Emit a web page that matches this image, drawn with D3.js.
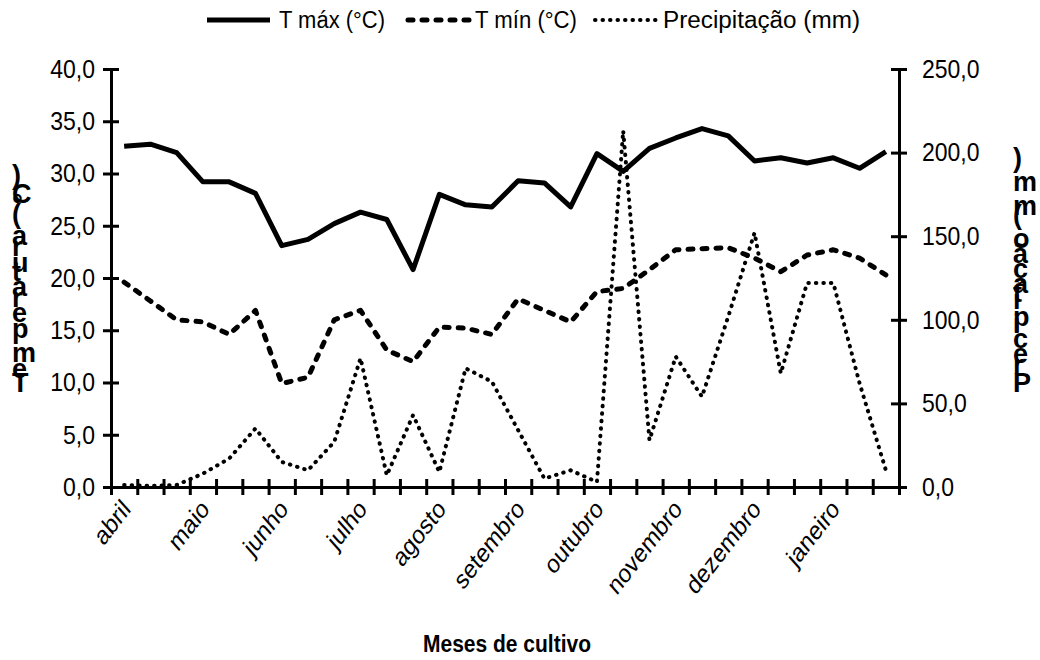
<!DOCTYPE html>
<html>
<head>
<meta charset="utf-8">
<script src="https://cdn.jsdelivr.net/npm/d3@7"></script>
<style>
body { margin: 0; background: #fff; }
svg { font-family: "Liberation Sans", Arial, sans-serif; }
</style>
</head>
<body>
<svg id="chart" width="1040" height="660"></svg>
<script>
// one label every third week
const weekLabels = [
	"abril", "", "", "maio", "", "", "junho", "", "", "julho", "", "",
	"agosto", "", "", "setembro", "", "", "outubro", "", "", "novembro", "", "",
	"dezembro", "", "", "janeiro", "", ""
];

const tmax = [32.6, 32.8, 32.0, 29.2, 29.2, 28.1, 23.1, 23.7, 25.2, 26.3, 25.6, 20.8, 28.0, 27.0, 26.8,
	29.3, 29.1, 26.8, 31.9, 30.2, 32.4, 33.4, 34.3, 33.6, 31.2, 31.5, 31.0, 31.5, 30.5, 32.1];

const tmin = [19.6, 17.8, 16.0, 15.8, 14.6, 16.9, 9.9, 10.5, 16.0, 16.9, 13.1, 12.0, 15.3, 15.2, 14.6,
	18.0, 16.9, 15.8, 18.7, 19.0, 20.8, 22.7, 22.8, 22.9, 21.9, 20.6, 22.2, 22.7, 21.9, 20.3];

const precip = [1.2, 0.6, 1.2, 8, 17, 35, 15, 10, 27, 77, 7, 43, 9, 71, 63,
	34, 5, 10, 3, 213, 28, 78, 54, 102, 152, 68, 122, 122, 62, 10];

const tempTicks = [0, 5, 10, 15, 20, 25, 30, 35, 40];
const precipTicks = [0, 50, 100, 150, 200, 250];

const svg = d3.select("#chart");

// the original picture is a bit taller than wide in its lettering
const tall = 1.13;

const x = d3.scaleLinear()
	.domain([0, weekLabels.length])
	.range([111, 899]);

const yT = d3.scaleLinear().domain([0, 40]).range([487, 69]);
const yP = d3.scaleLinear().domain([0, 250]).range([487, 69]);

const fmt = (v) => d3.format(".1f")(v).replace(".", ",");

// Axes

const styleAxis = (g) => {
	g.select(".domain").attr("stroke", "#000").attr("stroke-width", 3);
	g.selectAll(".tick line").attr("stroke", "#000").attr("stroke-width", 3);
	g.selectAll(".tick text")
		.attr("fill", "#000")
		.attr("transform", `scale(1,${tall})`)
		.style("font-size", "23px");
	g.attr("font-family", null);
};

svg.append("g")
	.attr("transform", "translate(111,0)")
	.call(d3.axisLeft(yT).tickValues(tempTicks).tickFormat(fmt).tickSize(8).tickSizeOuter(0).tickPadding(8))
	.call(styleAxis)
	.call((g) => g.selectAll(".tick line").attr("x1", 8));

svg.append("g")
	.attr("transform", "translate(899,0)")
	.call(d3.axisRight(yP).tickValues(precipTicks).tickFormat(fmt).tickSize(8).tickSizeOuter(0).tickPadding(15))
	.call(styleAxis)
	.call((g) => g.selectAll(".tick line").attr("x1", -8));

svg.append("g")
	.attr("transform", "translate(0,487)")
	.call(d3.axisBottom(x).tickValues(d3.range(weekLabels.length + 1)).tickFormat("").tickSize(8).tickSizeOuter(0))
	.call(styleAxis)
	.call((g) => g.selectAll(".tick line").attr("y1", -8));

// Month labels

svg.append("g")
	.selectAll("text")
	.data(weekLabels.map((d, i) => ({label: d, i: i})).filter((d) => d.label !== ""))
	.enter()
	.append("text")
		.attr("transform", (d) => `translate(${x(d.i + 0.5) + 2},504) scale(1,1.2) rotate(-47)`)
		.attr("text-anchor", "end")
		.attr("dy", "0.35em")
		.style("font-size", "22px")
		.text((d) => d.label);

// Series

const line = (scale) => d3.line()
	.x((d, i) => x(i + 0.5))
	.y((d) => scale(d));

const series = [
	{name: "T máx (°C)", values: tmax, scale: yT, width: 5, dash: null, lx: 207, tx: 279, tw: 106},
	{name: "T mín (°C)", values: tmin, scale: yT, width: 5, dash: "5 9", lx: 408, tx: 475, tw: 102},
	{name: "Precipitação (mm)", values: precip, scale: yP, width: 4, dash: "0.5 7", lx: 595, tx: 663, tw: 197}
];

series.forEach((s) => {
	svg.append("path")
		.datum(s.values)
		.attr("d", line(s.scale))
		.attr("fill", "none")
		.attr("stroke", "#000")
		.attr("stroke-width", s.width)
		.attr("stroke-linejoin", "round")
		.attr("stroke-linecap", s.dash ? "round" : "butt")
		.attr("stroke-dasharray", s.dash);

	// Legend

	svg.append("line")
		.attr("x1", s.lx).attr("x2", s.lx + 63)
		.attr("y1", 20).attr("y2", 20)
		.attr("stroke", "#000")
		.attr("stroke-width", s.width)
		.attr("stroke-linecap", s.dash ? "round" : "butt")
		.attr("stroke-dasharray", s.dash);

	svg.append("text")
		.attr("transform", `translate(${s.tx},20) scale(1,${tall})`)
		.attr("dy", "0.35em")
		.attr("textLength", s.tw)
		.attr("lengthAdjust", "spacingAndGlyphs")
		.style("font-size", "21px")
		.text(s.name);
});

// Axis titles (glyphs stacked upright, as in the original)

const stacked = (text, px) => {
	svg.append("text")
		.attr("transform", `translate(${px},392) rotate(-90)`)
		.attr("rotate", "90")
		.style("font-size", "27px")
		.style("font-weight", "bold")
		.text(text);
};

stacked("Temperatura (°C)", 12);
stacked("Precipitação (mm)", 1013);

svg.append("text")
	.attr("transform", `translate(507,652) scale(1,${tall})`)
	.attr("text-anchor", "middle")
	.style("font-size", "21px")
	.style("font-weight", "bold")
	.text("Meses de cultivo");
</script>
</body>
</html>
